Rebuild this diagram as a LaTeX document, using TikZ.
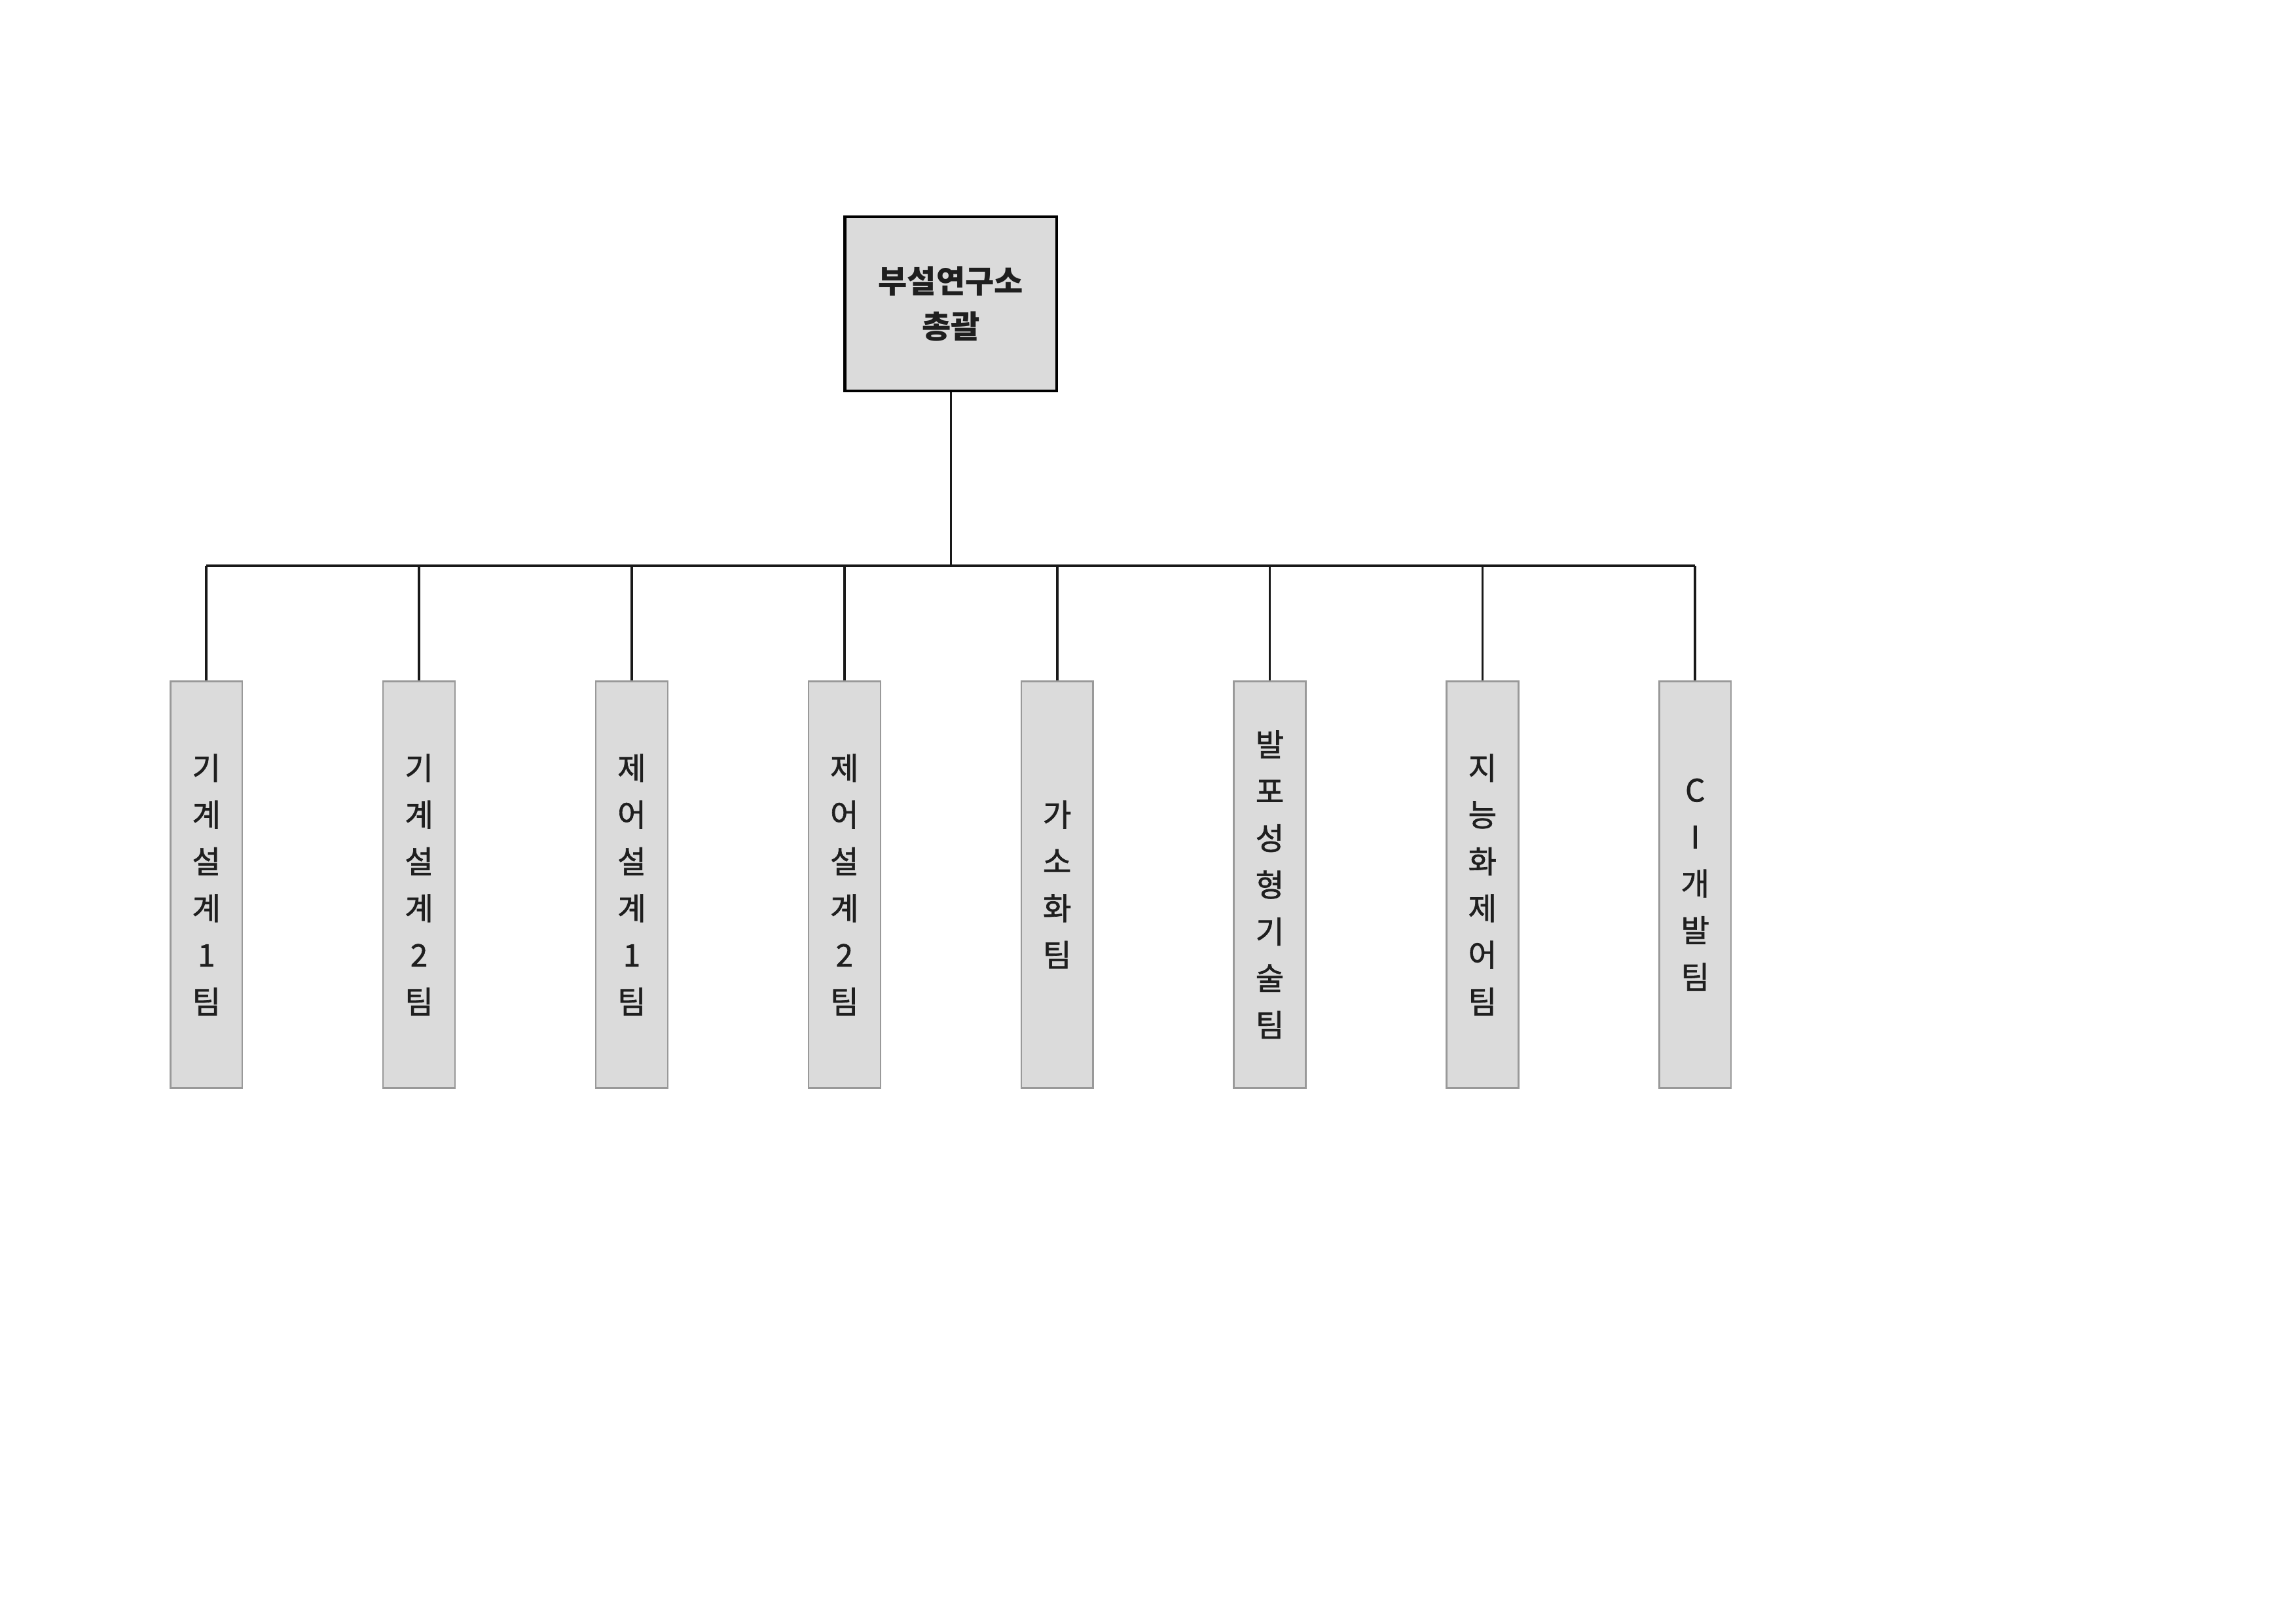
\documentclass[tikz,border=0pt]{standalone}
\usepackage{fontspec}
\newfontfamily\kr{Noto Sans CJK KR}
\newfontfamily\krmed[RawFeature={embolden=1.4}]{Noto Sans CJK KR}
\usepackage{tikz}
\usetikzlibrary{positioning}
\definecolor{boxgray}{rgb}{0.86,0.86,0.86}
\tikzset{
  head/.style={draw=black, line width=1.1pt, fill=boxgray, minimum width=27.4mm,
    minimum height=22.5mm, align=center, text=black!88,
    font=\kr\bfseries\fontsize{11.6}{16.6}\selectfont},
  team/.style={draw=gray!80, line width=0.6pt, fill=boxgray, minimum width=9.3mm,
    minimum height=52.6mm, inner sep=0pt, align=center, text=black!88,
    font=\krmed\fontsize{11.4}{17.2}\selectfont},
  link/.style={line width=0.9pt, black!90}
}
\begin{document}
\begin{tikzpicture}
  \fill[white] (0,0) rectangle (297mm,210mm);
  \useasboundingbox (0,0) rectangle (297mm,210mm);
  % head office
  \node[head] (H) at (123mm,170.7mm) {부설연구소\\총괄};
  % teams
  \node[team] (T1) at (26.7mm,95.6mm) {기\\계\\설\\계\\1\\팀};
  \node[team, right=18mm of T1] (T2) {기\\계\\설\\계\\2\\팀};
  \node[team, right=18mm of T2] (T3) {제\\어\\설\\계\\1\\팀};
  \node[team, right=18mm of T3] (T4) {제\\어\\설\\계\\2\\팀};
  \node[team, right=18mm of T4] (T5) {가\\소\\화\\팀};
  \node[team, right=18mm of T5] (T6) {발\\포\\성\\형\\기\\술\\팀};
  \node[team, right=18mm of T6] (T7) {지\\능\\화\\제\\어\\팀};
  \node[team, right=18mm of T7] (T8) {C\\I\\개\\발\\팀};
  % bus line
  \coordinate (bus) at (0,136.8mm);
  \draw[link] (H.south) -- (H.south |- bus);
  \draw[link] (T1.north |- bus) -- (T8.north |- bus);
  \draw[link] (T1.north) -- (T1.north |- bus);
  \draw[link] (T2.north) -- (T2.north |- bus);
  \draw[link] (T3.north) -- (T3.north |- bus);
  \draw[link] (T4.north) -- (T4.north |- bus);
  \draw[link] (T5.north) -- (T5.north |- bus);
  \draw[link] (T6.north) -- (T6.north |- bus);
  \draw[link] (T7.north) -- (T7.north |- bus);
  \draw[link] (T8.north) -- (T8.north |- bus);
\end{tikzpicture}
\end{document}
